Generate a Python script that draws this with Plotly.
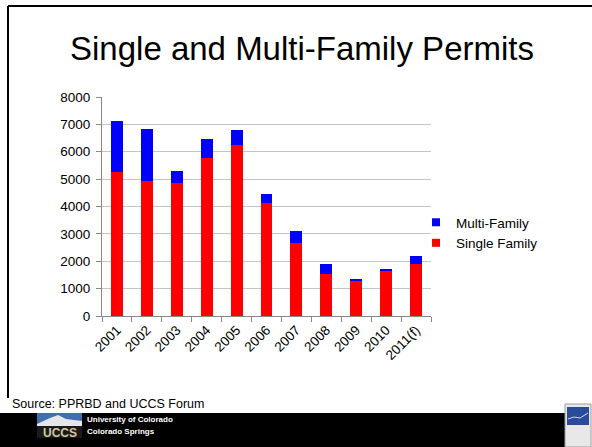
import plotly.graph_objects as go

years = ["2001", "2002", "2003", "2004", "2005", "2006", "2007", "2008", "2009", "2010", "2011(f)"]
single_family = [5270, 4930, 4850, 5790, 6260, 4140, 2680, 1550, 1300, 1630, 1910]
multi_family = [1850, 1900, 460, 690, 520, 300, 430, 350, 40, 85, 300]
y_ticks = [0, 1000, 2000, 3000, 4000, 5000, 6000, 7000, 8000]

W, H = 592, 447
L, R, T, B = 102, 431, 97, 316  # plot area in pixels


def px(x):
    return (x - L) / (R - L)


def py(y):
    return (B - y) / (B - T)


FONT = "Liberation Sans, Arial, sans-serif"
RED, BLUE = "#FF0000", "#0000FF"

fig = go.Figure()
fig.add_trace(go.Bar(x=years, y=single_family, name="Single Family", legendgroup="s",
                     showlegend=False, marker=dict(color=RED, line=dict(width=0))))
fig.add_trace(go.Bar(x=years, y=multi_family, name="Multi-Family", legendgroup="m",
                     showlegend=False, marker=dict(color=BLUE, line=dict(width=0))))
# legend entries with small square swatches
fig.add_trace(go.Scatter(x=[None], y=[None], mode="markers", name="Single Family",
                         legendgroup="s", marker=dict(symbol="square", size=8, color=RED)))
fig.add_trace(go.Scatter(x=[None], y=[None], mode="markers", name="Multi-Family",
                         legendgroup="m", marker=dict(symbol="square", size=8, color=BLUE)))

shapes = [
    # slide frame
    dict(type="line", xref="paper", yref="paper", x0=px(8), x1=px(600), y0=py(6), y1=py(6),
         line=dict(color="black", width=2)),
    dict(type="line", xref="paper", yref="paper", x0=px(8), x1=px(8), y0=py(6), y1=py(398),
         line=dict(color="black", width=2)),
    # bottom black band
    dict(type="rect", xref="paper", yref="paper", x0=px(-5), x1=px(565), y0=py(413), y1=py(450),
         fillcolor="black", line=dict(width=0), layer="above"),
    # UCCS logo
    dict(type="rect", xref="paper", yref="paper", x0=px(37), x1=px(82), y0=py(413), y1=py(426),
         fillcolor="#3f6fb0", line=dict(width=0), layer="above"),
    dict(type="path", xref="paper", yref="paper",
         path=f"M {px(37)},{py(424)} L {px(50)},{py(418)} L {px(58)},{py(415)} L {px(66)},{py(419)} L {px(82)},{py(421)} L {px(82)},{py(426)} L {px(37)},{py(426)} Z",
         fillcolor="#e6e6ea", line=dict(width=0), layer="above"),
    dict(type="rect", xref="paper", yref="paper", x0=px(37), x1=px(82), y0=py(426), y1=py(438),
         fillcolor="#1a1a1a", line=dict(width=0), layer="above"),
    # right icon
    dict(type="rect", xref="paper", yref="paper", x0=px(565), x1=px(591), y0=py(404), y1=py(447),
         fillcolor="#e8e8e8", line=dict(color="#9a9a9a", width=1), layer="above"),
    dict(type="rect", xref="paper", yref="paper", x0=px(567), x1=px(589), y0=py(407), y1=py(425),
         fillcolor="#2a4a9a", line=dict(width=0), layer="above"),
    dict(type="path", xref="paper", yref="paper",
         path=f"M {px(568)},{py(419)} L {px(574)},{py(417)} L {px(580)},{py(418)} L {px(588)},{py(413)}",
         line=dict(color="#cfd8f0", width=1), layer="above"),
]

annotations = [
    dict(text="Single and Multi-Family Permits", xref="paper", yref="paper",
         x=px(302), y=py(48), xanchor="center", yanchor="middle", showarrow=False,
         font=dict(family=FONT, size=33, color="black")),
    dict(text="Source: PPRBD and UCCS Forum", xref="paper", yref="paper",
         x=px(10), y=py(404), xanchor="left", yanchor="middle", showarrow=False,
         font=dict(family=FONT, size=12.5, color="black")),
    dict(text="<b>UCCS</b>", xref="paper", yref="paper",
         x=px(59.5), y=py(432.5), xanchor="center", yanchor="middle", showarrow=False,
         font=dict(family=FONT, size=12, color="#d9c79a")),
    dict(text="<b>University of Colorado</b>", xref="paper", yref="paper",
         x=px(85), y=py(419.5), xanchor="left", yanchor="middle", showarrow=False,
         font=dict(family=FONT, size=8, color="white")),
    dict(text="<b>Colorado Springs</b>", xref="paper", yref="paper",
         x=px(85), y=py(431), xanchor="left", yanchor="middle", showarrow=False,
         font=dict(family=FONT, size=8, color="white")),
]

fig.update_layout(
    width=W, height=H,
    margin=dict(l=L, r=W - R, t=T, b=H - B, pad=0),
    paper_bgcolor="white", plot_bgcolor="white",
    barmode="stack", bargap=0.6,
    font=dict(family=FONT, size=13.5, color="black"),
    legend=dict(x=px(416), y=py(207), xanchor="left", yanchor="top",
                traceorder="reversed", font=dict(family=FONT, size=13.5),
                bgcolor="rgba(0,0,0,0)", itemwidth=30),
    xaxis=dict(type="category", showline=True, linecolor="#888888", linewidth=1,
               ticks="outside", tickson="boundaries", ticklen=5, tickcolor="#888888",
               tickangle=-45, showgrid=False, tickfont=dict(size=13.5)),
    yaxis=dict(range=[0, 8000], tickvals=y_ticks, showline=True, linecolor="#888888",
               linewidth=1, ticks="outside", ticklen=5, tickcolor="#888888",
               showgrid=True, gridcolor="#c4c4c4", gridwidth=1, zeroline=False,
               tickfont=dict(size=13.5), ticklabelstandoff=3),
    shapes=shapes,
    annotations=annotations,
    showlegend=True,
)

fig.write_html("out.html", config={"displayModeBar": False},
               post_script="document.body.style.margin='0';")
